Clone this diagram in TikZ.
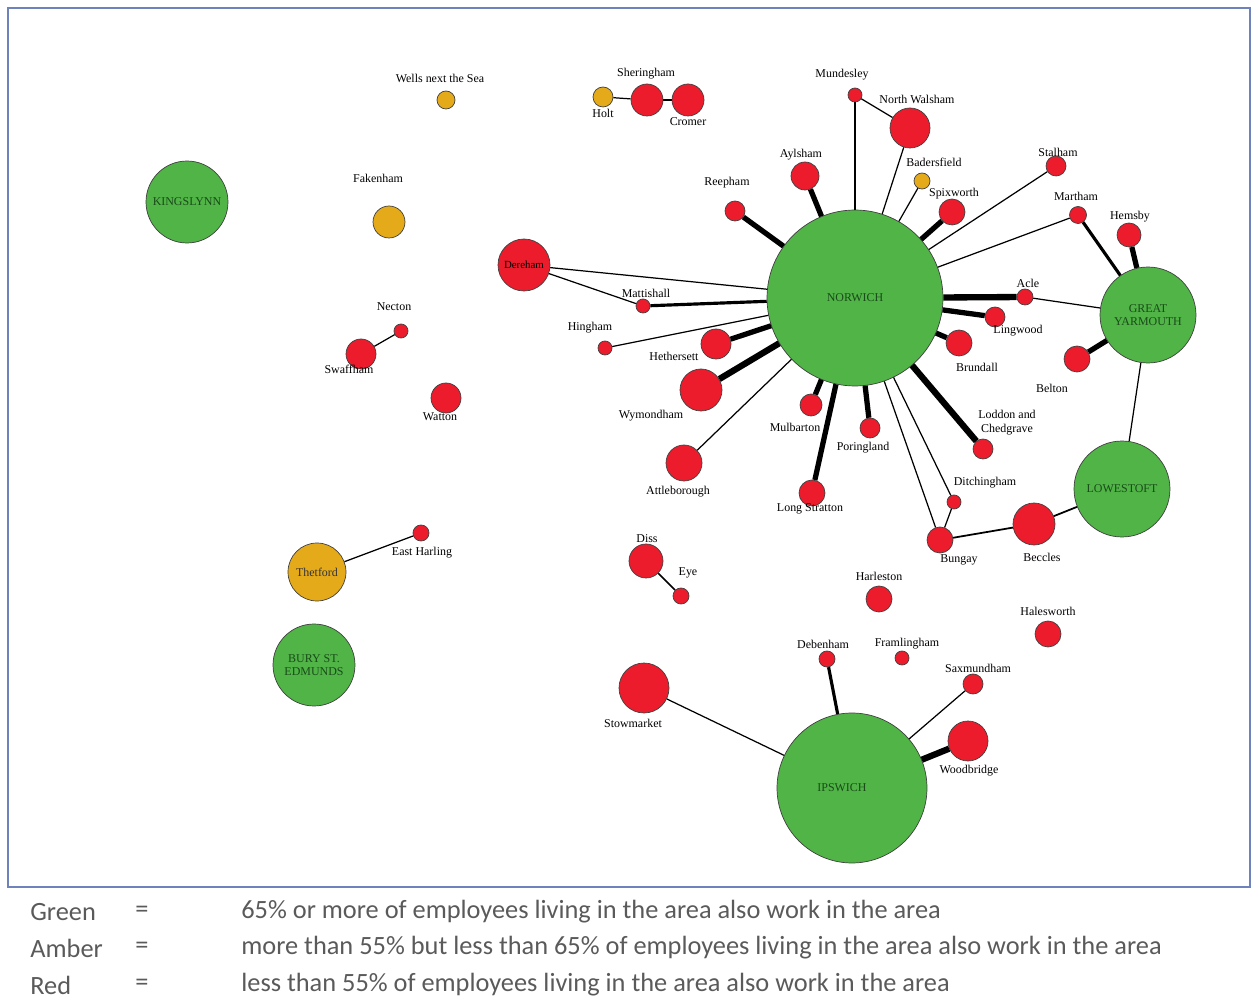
\documentclass[tikz,border=0pt]{standalone}
\usepackage{fontspec}
\setmainfont{Liberation Serif}
\newfontfamily\legendfont{Carlito}
\definecolor{grnfill}{RGB}{80,180,70}
\definecolor{redfill}{RGB}{236,28,44}
\definecolor{ambfill}{RGB}{228,170,25}
\definecolor{framecol}{RGB}{110,130,190}
\definecolor{legcol}{RGB}{90,90,90}
\definecolor{grntext}{RGB}{25,75,25}
\tikzset{
  town/.style={circle, draw=black!75, line width=0.4pt, inner sep=0pt},
  grn/.style={town, fill=grnfill, minimum size=#1, text=grntext, align=center, font=\fontsize{6.8}{7.6}\selectfont},
  amb/.style={town, fill=ambfill, minimum size=#1},
  rd/.style={town, fill=redfill, minimum size=#1},
  lbl/.style={font=\fontsize{6.8}{8}\selectfont, inner sep=0pt, align=center},
  thinlink/.style={line width=0.7pt},
  midlink/.style={line width=1.8pt},
  fatlink/.style={line width=3pt},
  legend/.style={font=\legendfont\fontsize{15}{18}\selectfont, text=legcol, anchor=west, inner sep=0pt}
}

\begin{document}
\begin{tikzpicture}[x=0.02cm, y=-0.02cm]
\useasboundingbox (0,0) rectangle (1252,1003);
\draw[framecol, line width=1pt] (8,8) rectangle (1250,887);

% big centres
\node[grn=3.52cm] (norwich) at (855,298) {NORWICH};
\node[grn=3cm] (ipswich) at (852,788) {\hspace*{-0.4cm}IPSWICH};
\node[grn=1.92cm] (yarmouth) at (1148,315) {GREAT\\YARMOUTH};
\node[grn=1.92cm] (lowestoft) at (1122,489) {LOWESTOFT};
\node[grn=1.64cm] (kingslynn) at (187,202) {KINGSLYNN};
\node[grn=1.64cm] (bury) at (314,665) {BURY ST.\\EDMUNDS};
\node[amb=1.16cm, font=\fontsize{6.8}{8}\selectfont, text=black!80] (thetford) at (317,572) {Thetford};
\node[rd=1.04cm, font=\fontsize{6.2}{8}\selectfont] (dereham) at (524,265) {Dereham};

% north coast
\node[amb=0.36cm] (wells) at (446,100) {};
\node[lbl] (lwells) at (440,78) {Wells next the Sea};
\node[amb=0.64cm] (fakenham) at (389,222) {};
\node[lbl] (lfakenham) at (378,178) {Fakenham};
\node[amb=0.4cm] (holt) at (603,97) {};
\node[lbl] (lholt) at (603,113) {Holt};
\node[rd=0.64cm] (sheringham) at (647,100) {};
\node[lbl] (lsheringham) at (646,74) {Sheringham};
\node[rd=0.64cm] (cromer) at (688,100) {};
\node[lbl] (lcromer) at (688,122) {Cromer};
\node[rd=0.28cm] (mundesley) at (855,95) {};
\node[lbl] (lmundesley) at (842,75) {Mundesley};
\node[rd=0.8cm] (nwalsham) at (910,128) {};
\node[lbl] (lnwalsham) at (917,99) {North Walsham};

% round norwich
\node[rd=0.56cm] (aylsham) at (805,176) {};
\node[lbl] (laylsham) at (801,155) {Aylsham};
\node[rd=0.4cm] (reepham) at (735,211) {};
\node[lbl] (lreepham) at (727,183) {Reepham};
\node[amb=0.32cm] (badersfield) at (922,181) {};
\node[lbl] (lbadersfield) at (934,162) {Badersfield};
\node[rd=0.52cm] (spixworth) at (952,212) {};
\node[lbl] (lspixworth) at (954,194) {Spixworth};
\node[rd=0.4cm] (stalham) at (1056,166) {};
\node[lbl] (lstalham) at (1058,152) {Stalham};
\node[rd=0.34cm] (martham) at (1078,215) {};
\node[lbl] (lmartham) at (1076,196) {Martham};
\node[rd=0.48cm] (hemsby) at (1129,235) {};
\node[lbl] (lhemsby) at (1130,217) {Hemsby};
\node[rd=0.32cm] (acle) at (1025,297) {};
\node[lbl] (lacle) at (1028,283) {Acle};
\node[rd=0.4cm] (lingwood) at (995,317) {};
\node[lbl] (llingwood) at (1018,331) {Lingwood};
\node[rd=0.52cm] (brundall) at (959,343) {};
\node[lbl] (lbrundall) at (977,367) {Brundall};
\node[rd=0.52cm] (belton) at (1077,359) {};
\node[lbl] (lbelton) at (1052,388) {Belton};
\node[rd=0.4cm] (loddon) at (983,449) {};
\node[lbl] (lloddon) at (1007,423) {Loddon and\\Chedgrave};
\node[rd=0.28cm] (ditchingham) at (954,502) {};
\node[lbl] (lditchingham) at (985,483) {Ditchingham};
\node[rd=0.52cm] (bungay) at (940,540) {};
\node[lbl] (lbungay) at (959,560) {Bungay};
\node[rd=0.84cm] (beccles) at (1034,524) {};
\node[lbl] (lbeccles) at (1042,557) {Beccles};
\node[rd=0.4cm] (poringland) at (870,428) {};
\node[lbl] (lporingland) at (863,448) {Poringland};
\node[rd=0.52cm] (lstratton) at (812,493) {};
\node[lbl] (llstratton) at (810,509) {Long Stratton};
\node[rd=0.44cm] (mulbarton) at (811,405) {};
\node[lbl] (lmulbarton) at (795,427) {Mulbarton};
\node[rd=0.72cm] (attleborough) at (684,463) {};
\node[lbl] (lattleborough) at (678,492) {Attleborough};
\node[rd=0.84cm] (wymondham) at (701,390) {};
\node[lbl] (lwymondham) at (651,416) {Wymondham};
\node[rd=0.6cm] (hethersett) at (716,344) {};
\node[lbl] (lhethersett) at (674,356) {Hethersett};
\node[rd=0.28cm] (hingham) at (605,348) {};
\node[lbl] (lhingham) at (590,328) {Hingham};
\node[rd=0.28cm] (mattishall) at (643,306) {};
\node[lbl] (lmattishall) at (646,293) {Mattishall};

% west
\node[rd=0.28cm] (necton) at (401,331) {};
\node[lbl] (lnecton) at (394,307) {Necton};
\node[rd=0.6cm] (swaffham) at (361,354) {};
\node[lbl] (lswaffham) at (349,369) {Swaffham};
\node[rd=0.6cm] (watton) at (446,398) {};
\node[lbl] (lwatton) at (440,417) {Watton};
\node[rd=0.32cm] (eharling) at (421,533) {};
\node[lbl] (leharling) at (422,553) {East Harling};

% south
\node[rd=0.68cm] (diss) at (646,561) {};
\node[lbl] (ldiss) at (647,539) {Diss};
\node[rd=0.32cm] (eye) at (681,596) {};
\node[lbl] (leye) at (688,573) {Eye};
\node[rd=1cm] (stowmarket) at (644,688) {};
\node[lbl] (lstowmarket) at (633,723) {Stowmarket};
\node[rd=0.52cm] (harleston) at (879,599) {};
\node[lbl] (lharleston) at (879,576) {Harleston};
\node[rd=0.52cm] (halesworth) at (1048,634) {};
\node[lbl] (lhalesworth) at (1048,611) {Halesworth};
\node[rd=0.32cm] (debenham) at (827,659) {};
\node[lbl] (ldebenham) at (823,644) {Debenham};
\node[rd=0.28cm] (framlingham) at (902,658) {};
\node[lbl] (lframlingham) at (907,644) {Framlingham};
\node[rd=0.4cm] (saxmundham) at (973,684) {};
\node[lbl] (lsaxmundham) at (978,668) {Saxmundham};
\node[rd=0.8cm] (woodbridge) at (968,741) {};
\node[lbl] (lwoodbridge) at (969,771) {Woodbridge};

% links
\draw[thinlink] (holt) -- (sheringham);
\draw[thinlink] (sheringham) -- (cromer);
\draw[thinlink] (mundesley) -- (nwalsham);
\draw[thinlink] (mundesley) -- (norwich);
\draw[thinlink] (nwalsham) -- (norwich);
\draw[thinlink] (badersfield) -- (norwich);
\draw[fatlink] (aylsham) -- (norwich);
\draw[fatlink] (reepham) -- (norwich);
\draw[fatlink] (spixworth) -- (norwich);
\draw[thinlink] (stalham) -- (norwich);
\draw[thinlink] (martham) -- (norwich);
\draw[midlink] (martham) -- (yarmouth);
\draw[fatlink] (hemsby) -- (yarmouth);
\draw[fatlink, line width=3.6pt] (acle) -- (norwich);
\draw[thinlink] (acle) -- (yarmouth);
\draw[fatlink] (lingwood) -- (norwich);
\draw[fatlink] (brundall) -- (norwich);
\draw[fatlink] (belton) -- (yarmouth);
\draw[thinlink] (yarmouth) -- (lowestoft);
\draw[fatlink, line width=3.6pt] (loddon) -- (norwich);
\draw[thinlink] (ditchingham) -- (norwich);
\draw[thinlink] (bungay) -- (norwich);
\draw[thinlink] (bungay) -- (ditchingham);
\draw[thinlink, line width=1pt] (bungay) -- (beccles);
\draw[thinlink, line width=1pt] (beccles) -- (lowestoft);
\draw[fatlink] (poringland) -- (norwich);
\draw[fatlink] (lstratton) -- (norwich);
\draw[fatlink] (mulbarton) -- (norwich);
\draw[thinlink] (attleborough) -- (norwich);
\draw[fatlink, line width=3.6pt] (wymondham) -- (norwich);
\draw[fatlink] (hethersett) -- (norwich);
\draw[thinlink] (hingham) -- (norwich);
\draw[midlink] (mattishall) -- (norwich);
\draw[thinlink] (mattishall) -- (dereham);
\draw[thinlink] (dereham) -- (norwich);
\draw[thinlink] (necton) -- (swaffham);
\draw[thinlink] (thetford) -- (eharling);
\draw[thinlink, line width=1pt] (diss) -- (eye);
\draw[thinlink] (stowmarket) -- (ipswich);
\draw[midlink] (debenham) -- (ipswich);
\draw[thinlink] (saxmundham) -- (ipswich);
\draw[fatlink, line width=3.6pt] (woodbridge) -- (ipswich);

% key
\node[legend] (kgreen) at (30,912) {Green};
\node[legend] (kgreq) at (135,912) {=};
\node[legend] (kgrtxt) at (241,912) {65\% or more of employees living in the area also work in the area};
\node[legend] (kamber) at (30,948) {Amber};
\node[legend] (kameq) at (135,948) {=};
\node[legend] (kamtxt) at (241,948) {more than 55\% but less than 65\% of employees living in the area also work in the area};
\node[legend] (kred) at (30,985) {Red};
\node[legend] (kredeq) at (135,985) {=};
\node[legend] (krdtxt) at (241,985) {less than 55\% of employees living in the area also work in the area};
\end{tikzpicture}
\end{document}
